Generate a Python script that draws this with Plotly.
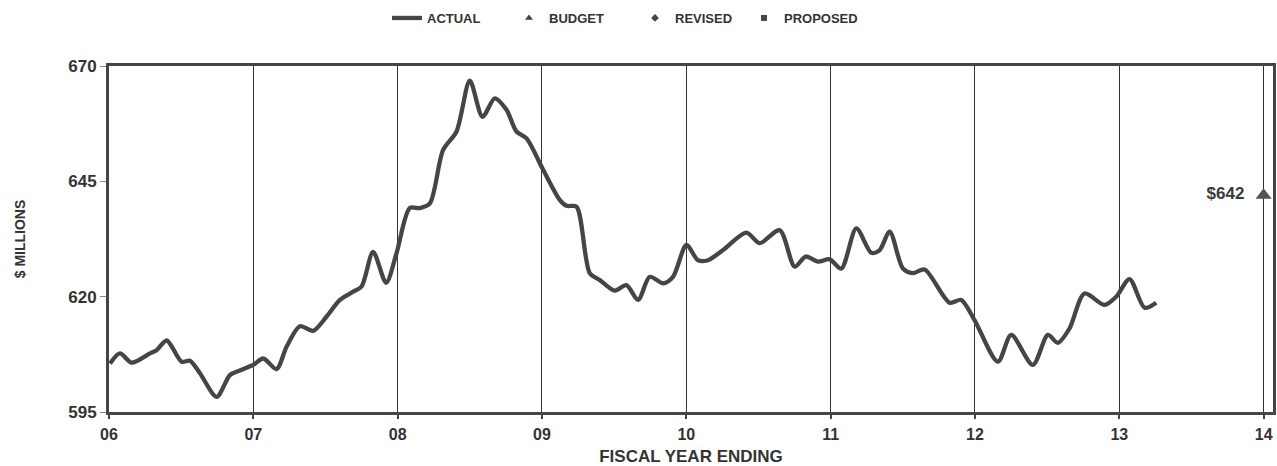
import plotly.graph_objects as go

# Fiscal year positions (fractional years) and ACTUAL values ($ millions)
fy = [6.007, 6.076, 6.157, 6.284, 6.330, 6.400, 6.503, 6.561, 6.630, 6.746, 6.838, 6.907,
      6.999, 7.069, 7.161, 7.231, 7.323, 7.415, 7.508, 7.600, 7.692, 7.750, 7.830, 7.920,
      7.992, 8.084, 8.154, 8.223, 8.315, 8.408, 8.500, 8.588, 8.673, 8.754, 8.823, 8.893,
      9.008, 9.123, 9.170, 9.239, 9.331, 9.400, 9.504, 9.585, 9.666, 9.747, 9.839, 9.908,
      10.001, 10.081, 10.150, 10.254, 10.416, 10.508, 10.647, 10.751, 10.827, 10.912, 10.993,
      11.074, 11.178, 11.282, 11.340, 11.409, 11.501, 11.570, 11.651, 11.824, 11.905, 11.997,
      12.159, 12.251, 12.401, 12.505, 12.574, 12.655, 12.759, 12.898, 12.979, 13.071, 13.175,
      13.256]
actual = [605.5, 607.7, 605.7, 607.7, 608.4, 610.5, 605.9, 606.1, 603.4, 598.3, 603.0, 604.0,
          605.2, 606.6, 604.3, 609.2, 613.6, 612.6, 615.7, 619.3, 621.1, 622.2, 629.7, 623.0,
          629.4, 639.2, 639.2, 640.2, 651.8, 655.8, 666.8, 659.0, 663.0, 660.5, 655.8, 654.3,
          647.5, 641.0, 639.7, 639.5, 625.1, 623.6, 621.3, 622.5, 619.3, 624.3, 622.9, 624.3,
          631.2, 627.9, 627.9, 630.1, 633.9, 631.6, 634.4, 626.5, 628.7, 627.6, 628.1,
          626.1, 634.8, 629.5, 630.1, 634.1, 626.1, 625.1, 625.9, 618.7, 619.3, 614.9,
          605.9, 611.7, 605.2, 611.7, 610.0, 613.1, 620.7, 618.2, 620.0, 623.8, 617.6,
          618.7]

budget_fy = [14]
budget_val = [642]
budget_labels = ["$642"]

year_ticks = [6, 7, 8, 9, 10, 11, 12, 13, 14]
year_labels = ["06", "07", "08", "09", "10", "11", "12", "13", "14"]
y_ticks = [595, 620, 645, 670]

series_names = ["ACTUAL", "BUDGET", "REVISED", "PROPOSED"]

dark = "#454545"
txt = "#333333"
font_fam = "Liberation Sans, Arial, sans-serif"

fig = go.Figure()

fig.add_trace(go.Scatter(
    x=fy, y=actual, mode="lines", name="<b>%s</b>" % series_names[0], legend="legend",
    line=dict(color=dark, width=4.3, shape="spline", smoothing=0.8),
    hoverinfo="skip"))

fig.add_trace(go.Scatter(
    x=[None], y=[None], mode="markers", name="<b>%s</b>" % series_names[1], legend="legend2",
    marker=dict(symbol="triangle-up", size=7, color=dark)))
fig.add_trace(go.Scatter(
    x=[None], y=[None], mode="markers", name="<b>%s</b>" % series_names[2], legend="legend3",
    marker=dict(symbol="diamond", size=6, color=dark)))
fig.add_trace(go.Scatter(
    x=[None], y=[None], mode="markers", name="<b>%s</b>" % series_names[3], legend="legend4",
    marker=dict(symbol="square", size=6, color=dark)))

fig.add_trace(go.Scatter(
    x=budget_fy, y=budget_val, mode="markers+text", showlegend=False,
    text=["<b>%s</b>&nbsp;&nbsp;" % t for t in budget_labels], textposition="middle left",
    textfont=dict(family=font_fam, size=17, color="#3a3a3a"),
    marker=dict(symbol="triangle-up", size=14, color="#555555"),
    cliponaxis=False))

L, R, T, B = 109, 4, 66, 54
W, H = 1277, 466
pw, ph = W - L - R, H - T - B


def leg(px_left):
    return dict(orientation="h", x=(px_left - L) / pw, xanchor="left",
                y=(H - B - 18) / ph, yanchor="middle",
                font=dict(family=font_fam, size=13, color=txt),
                bgcolor="rgba(0,0,0,0)", borderwidth=0)


fig.update_layout(
    width=W, height=H,
    margin=dict(l=L, r=R, t=T, b=B, autoexpand=False),
    paper_bgcolor="white", plot_bgcolor="white",
    font=dict(family=font_fam, color=txt),
    legend=leg(387), legend2=leg(509), legend3=leg(635), legend4=leg(744),
    xaxis=dict(range=[6, 14.065], tickvals=year_ticks,
               ticktext=["<b>%s</b>" % t for t in year_labels],
               showgrid=True, gridcolor="#333333", gridwidth=1.3,
               showline=True, linecolor=dark, linewidth=3, mirror=True,
               ticks="outside", ticklen=4, tickcolor=dark, tickwidth=1.5,
               ticklabelstandoff=2,
               tickfont=dict(family=font_fam, size=16, color=txt),
               title=dict(text="<b>FISCAL YEAR ENDING</b>", standoff=9,
                          font=dict(family=font_fam, size=17, color=txt)),
               zeroline=False, fixedrange=True),
    yaxis=dict(range=[595, 670], tickvals=y_ticks,
               ticktext=["<b>%d</b>" % v for v in y_ticks],
               showgrid=False, showline=True, linecolor=dark, linewidth=3, mirror=True,
               ticks="outside", ticklen=6, tickcolor="#888888", tickwidth=1,
               tickfont=dict(family=font_fam, size=17, color=txt),
               title=dict(text="<b>$ MILLIONS</b>", standoff=40,
                          font=dict(family=font_fam, size=14, color=txt)),
               zeroline=False, fixedrange=True),
)

fig.write_html("out.html")
